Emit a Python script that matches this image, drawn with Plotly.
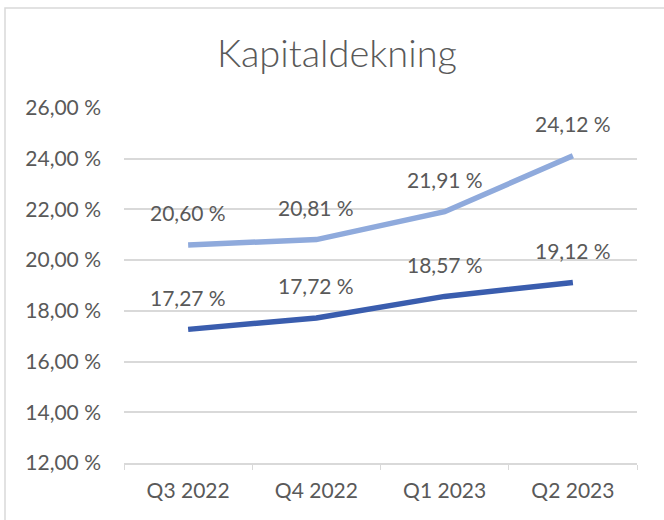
import plotly.graph_objects as go

categories = ["Q3 2022", "Q4 2022", "Q1 2023", "Q2 2023"]
upper_series = [20.60, 20.81, 21.91, 24.12]
lower_series = [17.27, 17.72, 18.57, 19.12]
y_ticks = [12, 14, 16, 18, 20, 22, 24, 26]
y_tick_labels = [f"{v:.2f}".replace(".", ",") + " %" for v in y_ticks]

FONT = "Lato"
TXT = "#595959"
FS = 21

fig = go.Figure()
for vals, color in [(upper_series, "#8FAADC"), (lower_series, "#3A5DAE")]:
    fig.add_trace(go.Scatter(
        x=categories, y=vals, mode="lines",
        line=dict(color=color, width=5.5, shape="linear"),
        hoverinfo="skip", showlegend=False,
    ))
    for c, v in zip(categories, vals):
        fig.add_annotation(
            x=c, y=v, text=f"{v:.2f}".replace(".", ",") + " %",
            showarrow=False, yshift=32,
            font=dict(family=FONT, size=FS, color=TXT),
        )

fig.update_layout(
    width=664, height=520,
    margin=dict(l=124, r=27, t=108, b=57),
    paper_bgcolor="white", plot_bgcolor="white",
    title=dict(text="Kapitaldekning", x=337 / 664, xanchor="center",
               y=1 - 54 / 520, yanchor="middle",
               font=dict(family=FONT, size=38, color=TXT, weight=300)),
    font=dict(family=FONT, color=TXT),
    xaxis=dict(
        type="category", range=[-0.5, 3.5],
        showgrid=False, showline=True, linecolor="#D9D9D9", linewidth=1.5,
        ticks="outside", tickson="boundaries", ticklen=5, tickcolor="#D9D9D9",
        tickfont=dict(family=FONT, size=FS, color=TXT),
        ticklabelstandoff=8,
    ),
    yaxis=dict(
        range=[12, 26], tickvals=y_ticks, ticktext=y_tick_labels,
        showgrid=True, gridcolor="#D9D9D9", gridwidth=1.5,
        zeroline=False, showline=False, ticks="",
        tickfont=dict(family=FONT, size=FS, color=TXT),
        ticklabelstandoff=22,
    ),
    shapes=[dict(type="rect", xref="paper", yref="paper",
                 x0=(5 - 124) / 513, x1=1.3, y0=-1.0, y1=1 + 100 / 355,
                 line=dict(color="#D9D9D9", width=1.5), fillcolor="rgba(0,0,0,0)",
                 layer="below")],
)

fig.write_html("out.html", config={"displayModeBar": False},
               post_script="document.body.style.margin='0';")
